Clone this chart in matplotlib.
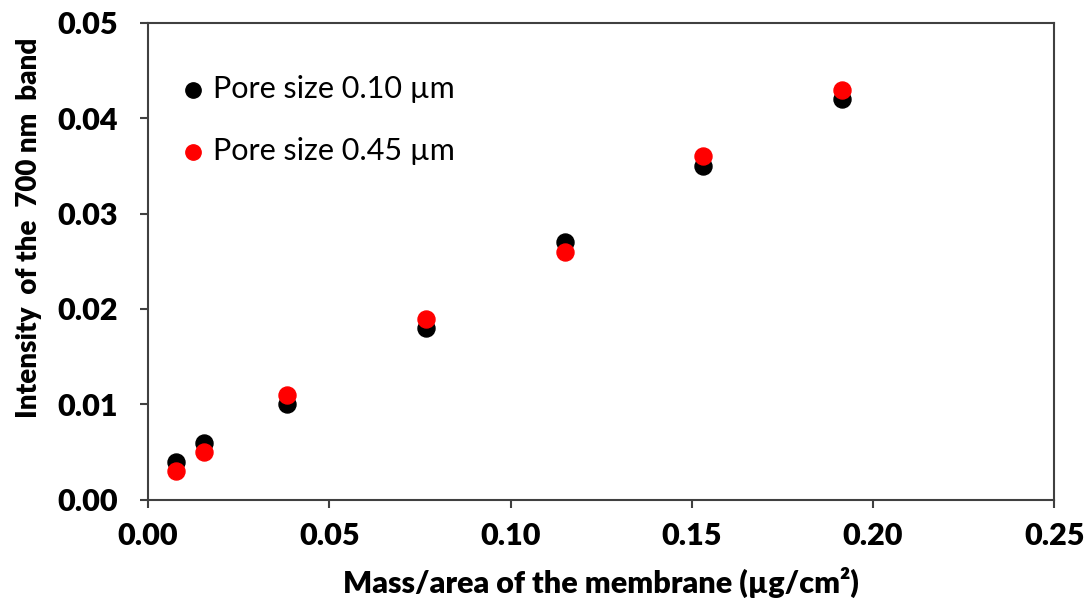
import matplotlib.pyplot as plt

# masa po povrsini membrane (ug/cm2)
masa = [0.0077, 0.0153, 0.0383, 0.0766, 0.1149, 0.1532, 0.1915]
# intenzitet vrpce na 700 nm
int_010 = [0.004, 0.006, 0.010, 0.018, 0.027, 0.035, 0.042]
int_045 = [0.003, 0.005, 0.011, 0.019, 0.026, 0.036, 0.043]

plt.rcParams['font.family'] = ['Lato', 'DejaVu Sans']

fig = plt.figure(figsize=(10.89, 6), dpi=100)
ax = fig.add_axes([0.136, 0.167, 0.832, 0.795])

ax.scatter(masa, int_010, s=150, color='black', label='Pore size 0.10 µm', zorder=3)
ax.scatter(masa, int_045, s=150, color='#ff0000', label='Pore size 0.45 µm', zorder=4)

ax.set_xlim(0, 0.25)
ax.set_ylim(0, 0.05)
ax.set_xticks([0, 0.05, 0.10, 0.15, 0.20, 0.25])
ax.set_yticks([0, 0.01, 0.02, 0.03, 0.04, 0.05])
ax.xaxis.set_major_formatter(plt.FormatStrFormatter('%.2f'))
ax.yaxis.set_major_formatter(plt.FormatStrFormatter('%.2f'))
for lab in ax.get_xticklabels() + ax.get_yticklabels():
    lab.set_fontweight('heavy')
ax.tick_params(labelsize=22, direction='out', length=6, width=1.5, color='#404040')
ax.tick_params(axis='y', pad=16)
ax.tick_params(axis='x', pad=10)
for s in ax.spines.values():
    s.set_color('#404040')
    s.set_linewidth(1.5)

ax.set_xlabel('Mass/area of the membrane (µg/cm²)', fontsize=22, fontweight='heavy', labelpad=12)
ax.set_ylabel('Intensity  of the  700 nm  band', fontsize=20, fontweight='heavy')
ax.yaxis.set_label_coords(-0.117, 0.57)

ax.legend(loc='upper left', bbox_to_anchor=(0.033, 0.89), frameon=False, fontsize=22,
          borderpad=0, borderaxespad=0, handlelength=1.0, handletextpad=0.15,
          labelspacing=1.12, markerscale=0.9)

fig.savefig('out.png', dpi=100)
